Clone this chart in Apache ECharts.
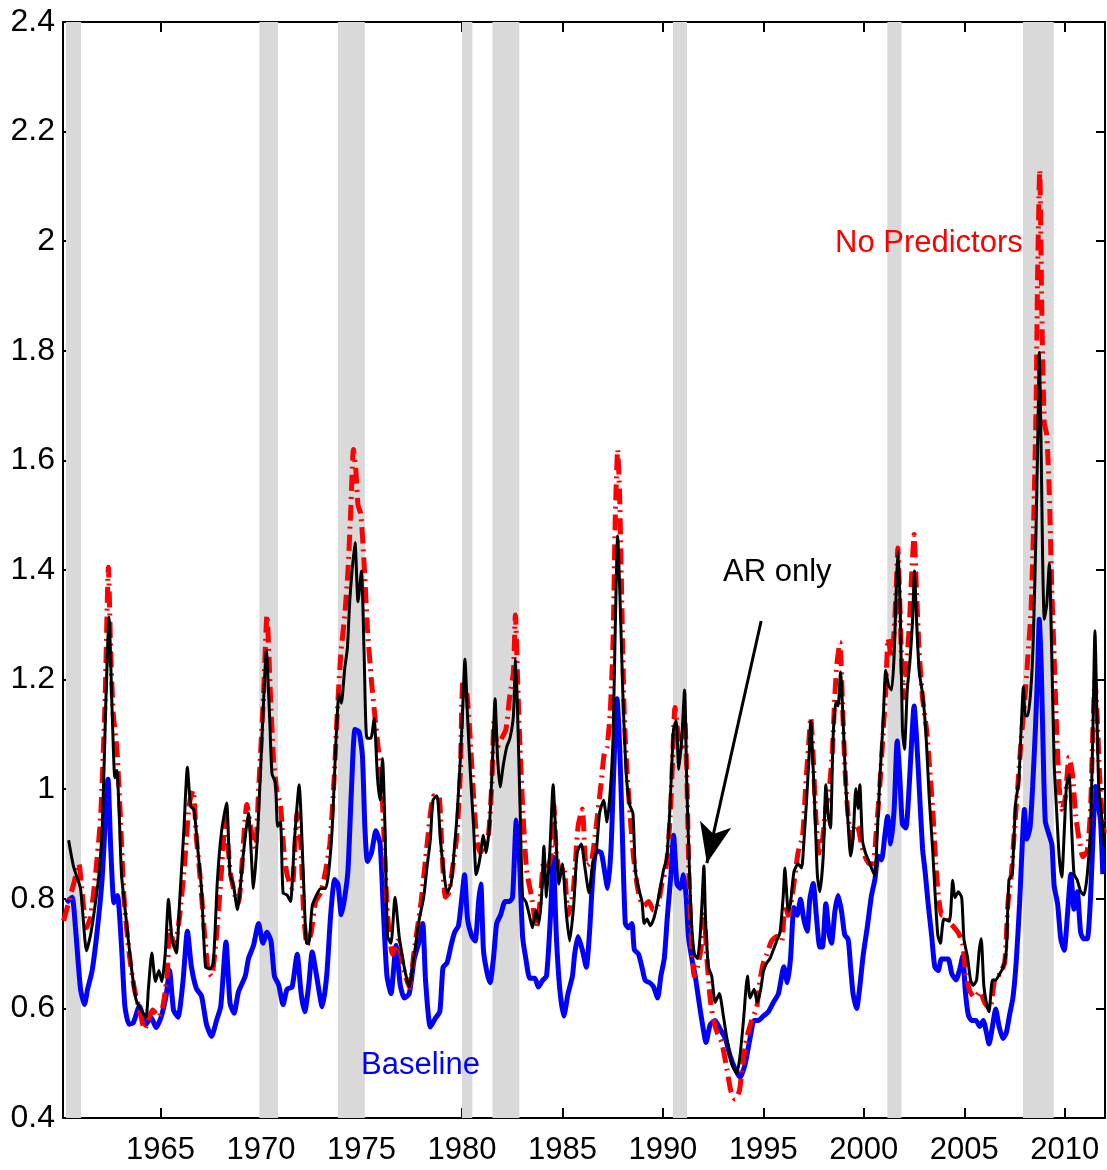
<!DOCTYPE html>
<html>
<head>
<meta charset="utf-8">
<title>Forecast volatility</title>
<script src="https://cdn.jsdelivr.net/npm/echarts@6.0.0/dist/echarts.min.js"></script>
<style>
  html, body { margin: 0; padding: 0; background: #fff; }
  #chart { width: 1107px; height: 1170px; }
</style>
</head>
<body>
<div id="chart"></div>
<script>
// NBER recessions (shaded)
const recessionStart = [1960.30, 1969.92, 1973.83, 1980.00, 1981.52, 1990.50, 2001.17, 2007.92];
const recessionEnd   = [1961.05, 1970.85, 1975.17, 1980.52, 1982.86, 1991.20, 2001.87, 2009.45];

const yearTicks = [1965, 1970, 1975, 1980, 1985, 1990, 1995, 2000, 2005, 2010];

// AR only (black)
const arYears = [1960.43,1960.68,1961.02,1961.32,1961.52,1961.69,1961.94,1962.11,1962.27,1962.44,1962.61,1962.73,1962.83,1962.94,1963.06,1963.28,1963.53,1963.78,1964.03,1964.28,1964.40,1964.57,1964.75,1964.92,1965.07,1965.24,1965.40,1965.57,1965.79,1965.95,1966.17,1966.34,1966.50,1966.67,1966.84,1967.04,1967.24,1967.46,1967.63,1967.83,1968.04,1968.29,1968.46,1968.63,1968.83,
  1969.13,1969.38,1969.63,1969.83,1970.05,1970.27,1970.43,1970.55,1970.72,1970.83,1970.97,1971.10,1971.30,1971.47,1971.67,1971.90,1972.10,1972.27,1972.38,1972.55,1972.77,1972.97,1973.22,1973.38,1973.55,1973.72,1973.88,1974.00,1974.17,1974.30,1974.43,1974.68,1974.83,1975.00,1975.13,1975.27,1975.47,1975.63,1975.80,1975.93,1976.05,1976.17,1976.30,1976.47,1976.67,1976.88,1977.13,1977.38,1977.60,1977.88,
  1978.10,1978.27,1978.43,1978.56,1978.76,1978.93,1979.09,1979.26,1979.46,1979.59,1979.75,1979.92,1980.05,1980.15,1980.28,1980.41,1980.58,1980.71,1980.87,1981.07,1981.20,1981.37,1981.53,1981.65,1981.77,1981.90,1982.06,1982.23,1982.39,1982.56,1982.67,1982.77,1982.89,1983.02,1983.18,1983.35,1983.51,1983.68,1983.83,1983.96,1984.08,1984.21,1984.37,1984.54,1984.67,1984.83,1985.00,1985.20,1985.36,1985.56,1985.73,1985.94,1986.11,1986.32,1986.52,1986.68,1986.85,
  1987.05,1987.22,1987.38,1987.52,1987.63,1987.75,1987.88,1988.01,1988.18,1988.34,1988.51,1988.63,1988.79,1988.96,1989.07,1989.21,1989.37,1989.54,1989.70,1989.87,1990.03,1990.20,1990.36,1990.53,1990.66,1990.79,1990.94,1991.08,1991.19,1991.32,1991.44,1991.57,1991.72,1991.85,1991.95,1992.04,1992.13,1992.27,1992.43,1992.60,1992.81,1993.01,1993.18,1993.43,1993.68,1993.84,1994.01,1994.21,1994.34,1994.54,1994.70,1994.87,1995.00,1995.17,1995.33,1995.50,1995.66,1995.83,
  1995.99,1996.07,1996.24,1996.35,1996.52,1996.73,1996.90,1997.01,1997.15,1997.26,1997.36,1997.48,1997.59,1997.69,1997.81,1997.98,1998.11,1998.23,1998.34,1998.47,1998.61,1998.72,1998.84,1998.97,1999.10,1999.22,1999.34,1999.47,1999.60,1999.72,1999.80,1999.93,2000.07,2000.22,2000.38,2000.55,2000.66,2000.80,2000.96,2001.09,2001.23,2001.38,2001.51,2001.63,2001.71,2001.82,2001.92,2002.02,2002.16,2002.29,2002.42,2002.52,2002.62,2002.75,2002.92,2003.08,2003.25,2003.42,2003.55,2003.68,2003.81,2003.98,
  2004.26,2004.42,2004.54,2004.70,2004.87,2004.98,2005.15,2005.31,2005.44,2005.61,2005.74,2005.84,2005.97,2006.10,2006.23,2006.40,2006.56,2006.76,2006.92,2007.09,2007.22,2007.38,2007.55,2007.71,2007.83,2007.94,2008.04,2008.16,2008.32,2008.44,2008.57,2008.67,2008.73,2008.82,2008.90,2008.98,2009.10,2009.23,2009.34,2009.47,2009.59,2009.72,2009.85,2009.97,2010.08,2010.21,2010.35,2010.46,2010.62,2010.79,2010.95,2011.12,2011.28,2011.40,2011.50,2011.60,2011.69,2011.86,2011.97];
const arValues = [0.907,0.858,0.819,0.705,0.734,0.773,0.845,0.936,1.145,1.314,1.125,1.021,1.034,0.962,0.845,0.767,0.682,0.617,0.597,0.584,0.636,0.701,0.649,0.669,0.649,0.701,0.799,0.728,0.701,0.793,0.930,1.040,0.969,0.962,0.897,0.819,0.676,0.672,0.682,0.832,0.923,0.975,0.845,0.825,0.780,
  0.884,0.956,0.819,0.916,1.093,1.253,1.133,1.028,1.012,0.932,0.940,0.811,0.807,0.795,0.908,1.008,0.852,0.719,0.719,0.787,0.807,0.819,0.819,0.852,0.932,1.077,1.173,1.157,1.221,1.257,1.350,1.450,1.342,1.398,1.253,1.093,1.093,1.129,1.020,0.980,1.056,0.932,0.731,0.719,0.803,0.731,0.675,0.639,0.691,0.763,
  0.803,0.860,0.908,0.980,0.988,0.908,0.852,0.811,0.827,0.876,0.948,1.052,1.157,1.237,1.133,1.036,0.932,0.844,0.868,0.916,0.884,0.932,1.060,1.165,1.060,1.004,1.044,1.077,1.093,1.133,1.237,1.141,0.972,0.803,0.795,0.771,0.747,0.779,0.755,0.803,0.896,0.803,0.884,1.008,0.916,0.827,0.864,0.771,0.723,0.787,0.884,0.900,0.860,0.811,0.868,0.884,0.956,
  0.980,0.940,0.996,1.093,1.293,1.462,1.334,1.173,1.028,0.972,0.956,0.852,0.819,0.795,0.755,0.763,0.751,0.763,0.787,0.819,0.852,0.876,0.972,1.109,1.125,1.036,1.093,1.181,1.012,0.852,0.747,0.699,0.691,0.731,0.795,0.860,0.755,0.675,0.659,0.611,0.627,0.586,0.546,0.498,0.482,0.514,0.578,0.659,0.619,0.635,0.611,0.635,0.667,0.683,0.691,0.707,0.723,0.739,
  0.806,0.856,0.777,0.791,0.849,0.864,0.856,0.900,0.979,1.051,1.124,1.037,0.936,0.842,0.813,0.878,1.008,0.950,0.929,1.095,1.160,1.152,1.214,1.124,1.008,0.936,0.878,0.914,1.001,0.965,1.008,0.907,0.885,0.871,0.856,0.842,0.914,1.022,1.124,1.217,1.189,1.181,1.246,1.384,1.434,1.311,1.109,1.073,1.181,1.232,1.304,1.398,1.311,1.217,1.174,1.109,0.986,0.892,0.806,0.734,0.719,0.763,
  0.759,0.834,0.802,0.813,0.802,0.727,0.695,0.652,0.642,0.652,0.706,0.727,0.642,0.610,0.594,0.652,0.652,0.663,0.674,0.706,0.834,0.845,0.973,1.016,1.112,1.187,1.134,1.134,1.187,1.283,1.476,1.668,1.797,1.626,1.412,1.310,1.337,1.412,1.262,1.048,0.963,0.877,0.840,0.920,1.005,1.027,0.920,0.845,0.834,0.813,0.807,0.845,0.930,1.112,1.289,1.134,1.005,0.941,0.898];

// No Predictors (red)
const npYears = [1960.18,1960.43,1960.70,1960.94,1961.10,1961.32,1961.52,1961.77,1962.02,1962.24,1962.41,1962.52,1962.65,1962.83,1962.99,1963.19,1963.44,1963.70,1964.00,1964.20,1964.62,1964.90,1965.12,1965.34,1965.45,1965.70,1965.95,1966.20,1966.42,1966.62,1966.79,1966.96,1967.17,1967.37,1967.54,1967.79,1968.00,1968.24,1968.46,1968.71,1968.88,
  1969.30,1969.55,1969.72,1969.88,1970.13,1970.30,1970.47,1970.63,1970.80,1970.97,1971.13,1971.30,1971.55,1971.80,1971.97,1972.13,1972.30,1972.50,1972.72,1972.97,1973.22,1973.43,1973.63,1973.80,1973.97,1974.17,1974.33,1974.47,1974.60,1974.72,1974.83,1974.97,1975.13,1975.30,1975.50,1975.67,1975.83,1976.00,1976.13,1976.30,1976.55,1976.80,1977.13,1977.38,1977.63,1977.97,
  1978.27,1978.60,1978.85,1979.01,1979.18,1979.35,1979.55,1979.75,1979.92,1980.05,1980.25,1980.41,1980.58,1980.74,1980.91,1981.16,1981.32,1981.49,1981.60,1981.77,1981.98,1982.19,1982.39,1982.56,1982.66,1982.76,1982.89,1983.05,1983.22,1983.47,1983.71,1983.91,1984.08,1984.29,1984.45,1984.57,1984.70,1984.87,1985.07,1985.28,1985.53,1985.78,1985.99,1986.19,1986.44,1986.68,1986.93,
  1987.08,1987.22,1987.38,1987.52,1987.63,1987.75,1987.85,1987.96,1988.08,1988.21,1988.38,1988.54,1988.71,1988.87,1989.07,1989.29,1989.54,1989.74,1989.95,1990.17,1990.36,1990.50,1990.60,1990.78,1990.94,1991.08,1991.19,1991.29,1991.39,1991.56,1991.72,1991.89,1992.05,1992.19,1992.35,1992.52,1992.72,1992.93,1993.18,1993.38,1993.59,1993.81,1993.97,1994.17,1994.42,1994.67,1994.83,1995.00,1995.17,1995.41,1995.66,1995.91,
  1996.08,1996.24,1996.49,1996.73,1996.95,1997.11,1997.28,1997.36,1997.48,1997.61,1997.78,1997.94,1998.11,1998.28,1998.44,1998.56,1998.67,1998.81,1998.94,1999.07,1999.22,1999.39,1999.55,1999.72,1999.88,2000.05,2000.27,2000.46,2000.63,2000.80,2000.96,2001.09,2001.21,2001.38,2001.51,2001.63,2001.69,2001.79,2001.89,2001.99,2002.12,2002.26,2002.37,2002.50,2002.62,2002.75,2002.92,2003.12,2003.28,2003.45,2003.58,2003.71,2003.88,
  2004.05,2004.21,2004.46,2004.70,2004.92,2005.08,2005.28,2005.53,2005.77,2006.02,2006.27,2006.51,2006.76,2007.01,2007.17,2007.34,2007.50,2007.66,2007.83,2007.99,2008.16,2008.32,2008.45,2008.57,2008.65,2008.75,2008.86,2008.98,2009.10,2009.23,2009.34,2009.47,2009.59,2009.72,2009.85,2010.02,2010.21,2010.38,2010.54,2010.71,2010.90,2011.12,2011.28,2011.40,2011.50,2011.61,2011.73,2011.86,2011.97];
const npValues = [0.760,0.793,0.830,0.864,0.812,0.747,0.767,0.845,0.949,1.158,1.405,1.255,1.138,1.073,0.962,0.800,0.701,0.636,0.591,0.562,0.597,0.584,0.604,0.663,0.747,0.714,0.767,0.864,0.969,0.998,0.910,0.845,0.747,0.669,0.659,0.734,0.832,0.949,0.852,0.806,0.793,
  0.972,0.916,0.892,0.996,1.173,1.318,1.173,1.052,0.996,0.972,0.892,0.844,0.819,0.956,0.908,0.771,0.715,0.739,0.795,0.811,0.852,0.900,1.012,1.141,1.245,1.318,1.398,1.510,1.620,1.583,1.518,1.502,1.414,1.293,1.197,1.133,1.077,1.012,0.908,0.771,0.699,0.723,0.667,0.639,0.707,0.795,
  0.900,0.988,0.988,0.884,0.803,0.811,0.860,0.916,1.028,1.197,1.173,1.093,0.988,0.908,0.884,0.900,0.916,1.012,1.125,1.077,1.093,1.109,1.173,1.213,1.318,1.213,1.077,0.948,0.852,0.803,0.747,0.803,0.868,0.860,0.884,0.972,0.884,0.852,0.860,0.771,0.811,0.932,0.964,0.860,0.868,0.932,1.012,
  1.065,1.077,1.141,1.269,1.494,1.620,1.534,1.334,1.133,1.036,0.948,0.876,0.827,0.799,0.787,0.795,0.779,0.787,0.827,0.860,0.948,1.069,1.149,1.093,1.077,1.133,1.028,0.852,0.747,0.659,0.675,0.707,0.771,0.691,0.619,0.578,0.554,0.538,0.490,0.450,0.434,0.450,0.498,0.546,0.578,0.602,0.651,0.683,0.699,0.723,0.731,0.723,
  0.789,0.770,0.820,0.885,0.914,1.008,1.095,1.131,1.059,0.950,0.878,0.907,0.965,1.001,1.073,1.174,1.232,1.268,1.152,1.030,0.950,0.907,0.936,0.929,0.900,0.878,0.864,0.864,0.929,1.008,1.102,1.181,1.275,1.239,1.290,1.384,1.440,1.340,1.225,1.167,1.225,1.297,1.384,1.465,1.362,1.253,1.167,1.109,1.037,0.950,0.864,0.806,0.770,
  0.770,0.759,0.749,0.738,0.717,0.663,0.631,0.620,0.631,0.610,0.599,0.652,0.663,0.684,0.791,0.845,0.930,1.005,1.091,1.155,1.241,1.326,1.487,1.701,1.947,2.130,1.861,1.668,1.647,1.540,1.380,1.241,1.112,1.005,0.963,0.984,1.059,1.027,0.952,0.909,0.877,0.888,0.963,1.112,1.198,1.134,1.027,0.952,0.920];

// Baseline (blue)
const blYears = [1960.32,1960.60,1960.77,1961.02,1961.22,1961.38,1961.60,1961.85,1962.10,1962.39,1962.52,1962.69,1962.86,1963.06,1963.23,1963.44,1963.65,1963.95,1964.28,1964.53,1964.78,1965.03,1965.28,1965.45,1965.65,1965.87,1966.12,1966.34,1966.54,1966.79,1967.04,1967.29,1967.54,1967.79,1968.00,1968.26,1968.46,1968.66,1968.88,
  1969.22,1969.38,1969.63,1969.88,1970.10,1970.30,1970.50,1970.67,1970.88,1971.10,1971.30,1971.55,1971.80,1972.00,1972.18,1972.38,1972.55,1972.77,1973.05,1973.27,1973.47,1973.67,1973.83,1974.00,1974.17,1974.33,1974.50,1974.68,1974.88,1975.05,1975.17,1975.30,1975.50,1975.72,1975.93,1976.10,1976.27,1976.47,1976.72,1976.93,1977.13,1977.38,1977.63,1977.88,
  1978.05,1978.19,1978.43,1978.68,1978.90,1979.06,1979.26,1979.46,1979.64,1979.83,1980.00,1980.13,1980.28,1980.50,1980.66,1980.83,1980.94,1981.07,1981.24,1981.40,1981.57,1981.73,1981.93,1982.15,1982.36,1982.52,1982.71,1982.85,1983.02,1983.18,1983.38,1983.63,1983.80,1984.01,1984.21,1984.41,1984.54,1984.70,1984.87,1985.07,1985.28,1985.50,1985.61,1985.78,1985.99,1986.19,1986.35,1986.52,1986.68,1986.93,
  1987.10,1987.25,1987.42,1987.55,1987.72,1987.85,1987.96,1988.13,1988.29,1988.46,1988.58,1988.79,1988.96,1989.12,1989.34,1989.54,1989.74,1989.90,1990.07,1990.23,1990.40,1990.53,1990.70,1990.86,1991.03,1991.16,1991.27,1991.44,1991.61,1991.77,1991.94,1992.15,1992.35,1992.60,1992.85,1993.10,1993.34,1993.59,1993.84,1994.09,1994.34,1994.54,1994.75,1995.00,1995.25,1995.50,1995.75,
  1996.02,1996.19,1996.35,1996.52,1996.68,1996.85,1997.01,1997.18,1997.31,1997.48,1997.65,1997.81,1997.94,1998.11,1998.28,1998.39,1998.56,1998.72,1998.89,1999.05,1999.22,1999.34,1999.47,1999.64,1999.80,1999.97,2000.17,2000.38,2000.55,2000.71,2000.88,2001.04,2001.18,2001.34,2001.51,2001.66,2001.79,2001.92,2002.09,2002.26,2002.39,2002.50,2002.62,2002.75,2002.92,2003.05,2003.20,2003.37,2003.53,2003.70,2003.86,
  2004.03,2004.20,2004.38,2004.59,2004.79,2004.92,2005.05,2005.20,2005.36,2005.58,2005.77,2005.94,2006.10,2006.23,2006.40,2006.56,2006.73,2006.92,2007.09,2007.25,2007.42,2007.58,2007.75,2007.88,2007.99,2008.11,2008.27,2008.40,2008.54,2008.65,2008.73,2008.83,2008.93,2009.03,2009.19,2009.36,2009.47,2009.64,2009.80,2009.97,2010.13,2010.30,2010.46,2010.62,2010.79,2010.95,2011.12,2011.28,2011.41,2011.53,2011.66,2011.78,2011.89];
const blValues = [0.793,0.803,0.747,0.636,0.607,0.636,0.669,0.741,0.838,1.018,0.897,0.793,0.806,0.714,0.604,0.571,0.574,0.604,0.571,0.584,0.565,0.584,0.623,0.669,0.597,0.584,0.649,0.741,0.676,0.636,0.623,0.571,0.549,0.578,0.604,0.721,0.610,0.591,0.630,
  0.659,0.691,0.715,0.755,0.719,0.739,0.723,0.659,0.643,0.607,0.635,0.639,0.699,0.627,0.594,0.643,0.703,0.659,0.603,0.659,0.771,0.835,0.827,0.771,0.803,0.852,0.996,1.109,1.105,1.060,0.932,0.868,0.884,0.924,0.900,0.771,0.659,0.627,0.715,0.643,0.619,0.627,0.691,0.723,
  0.755,0.651,0.566,0.582,0.594,0.675,0.683,0.715,0.739,0.751,0.803,0.844,0.763,0.731,0.723,0.795,0.827,0.707,0.667,0.647,0.691,0.755,0.771,0.795,0.795,0.803,0.944,0.884,0.731,0.691,0.655,0.655,0.639,0.651,0.659,0.771,0.876,0.731,0.635,0.586,0.627,0.659,0.699,0.731,0.707,0.675,0.739,0.844,0.888,0.884,
  0.850,0.819,0.892,1.028,1.165,1.077,0.948,0.755,0.747,0.755,0.707,0.699,0.675,0.651,0.647,0.639,0.619,0.659,0.691,0.771,0.844,0.916,0.827,0.819,0.844,0.803,0.731,0.691,0.659,0.619,0.578,0.538,0.570,0.578,0.562,0.546,0.514,0.490,0.474,0.498,0.546,0.578,0.578,0.586,0.594,0.611,0.627,
  0.676,0.647,0.690,0.784,0.770,0.799,0.763,0.741,0.799,0.828,0.763,0.712,0.712,0.791,0.734,0.719,0.777,0.806,0.777,0.734,0.726,0.676,0.625,0.600,0.640,0.698,0.748,0.806,0.835,0.878,0.871,0.914,0.950,0.900,0.965,1.088,1.022,0.936,0.929,1.008,1.095,1.152,1.095,1.008,0.892,0.849,0.791,0.734,0.676,0.669,0.690,
  0.690,0.690,0.663,0.652,0.674,0.695,0.631,0.588,0.578,0.578,0.567,0.578,0.556,0.535,0.567,0.599,0.567,0.545,0.556,0.588,0.620,0.684,0.791,0.898,0.963,0.909,0.930,1.005,1.112,1.219,1.310,1.219,1.059,0.941,0.920,0.898,0.824,0.791,0.727,0.706,0.770,0.845,0.781,0.813,0.738,0.727,0.727,0.802,0.920,1.005,0.973,0.941,0.845];

const pairs = (xs, ys) => xs.map((x, i) => [x, ys[i]]);

const FONT = '"Liberation Sans", Arial, Helvetica, sans-serif';
const chart = echarts.init(document.getElementById('chart'), null, {renderer: 'canvas'});

const tickStyle = {show: true, inside: true, length: 10, lineStyle: {color: '#000', width: 2}};
const lineAxis = {show: true, onZero: false, lineStyle: {color: '#000', width: 2}};

chart.setOption({
  animation: false,
  backgroundColor: '#fff',
  grid: {left: 63, right: 2, top: 22, bottom: 52, containLabel: false},
  xAxis: [{
    type: 'value', min: 1960.15, max: 2012.0, position: 'bottom',
    axisLine: lineAxis,
    axisTick: Object.assign({customValues: yearTicks}, tickStyle),
    axisLabel: {customValues: yearTicks, color: '#000', fontSize: 31, fontFamily: FONT, margin: 17,
                formatter: v => String(Math.round(v))},
    splitLine: {show: false}
  }, {
    type: 'value', min: 1960.15, max: 2012.0, position: 'top',
    axisLine: lineAxis,
    axisTick: Object.assign({customValues: yearTicks}, tickStyle),
    axisLabel: {show: false},
    splitLine: {show: false}
  }],
  yAxis: [{
    type: 'value', min: 0.4, max: 2.4, interval: 0.2, position: 'left',
    axisLine: lineAxis,
    axisTick: Object.assign({}, tickStyle, {length: 9}),
    axisLabel: {color: '#000', fontSize: 32, fontFamily: FONT, margin: 8},
    splitLine: {show: false}
  }, {
    type: 'value', min: 0.4, max: 2.4, interval: 0.2, position: 'right',
    axisLine: lineAxis,
    axisTick: Object.assign({}, tickStyle, {length: 9}),
    axisLabel: {show: false},
    splitLine: {show: false}
  }],
  series: [{
    name: 'recessions', type: 'line', data: [], z: 1, silent: true,
    markArea: {
      silent: true,
      itemStyle: {color: '#d9d9d9'},
      data: recessionStart.map((s, i) => [{xAxis: s}, {xAxis: recessionEnd[i]}])
    }
  }, {
    name: 'Baseline', type: 'line', z: 3, showSymbol: false, smooth: 0.2,
    data: pairs(blYears, blValues),
    lineStyle: {color: '#0000ff', width: 5}
  }, {
    name: 'No Predictors', type: 'line', z: 4, showSymbol: false, smooth: 0.2,
    data: pairs(npYears, npValues),
    lineStyle: {color: '#ff0000', width: 5, type: [16, 6, 2, 6], cap: 'butt'}
  }, {
    name: 'AR only', type: 'line', z: 5, showSymbol: false, smooth: 0.2,
    data: pairs(arYears, arValues),
    lineStyle: {color: '#000000', width: 3},
    markLine: {
      silent: true,
      symbol: ['none', 'arrow'],
      symbolSize: [24, 40],
      label: {show: false},
      lineStyle: {color: '#000', width: 3, type: 'solid'},
      data: [[{coord: [1994.89, 1.307]}, {coord: [1992.19, 0.865]}]]
    }
  }],
  graphic: [
    {type: 'text', left: 835, top: 228, z: 10,
     style: {text: 'No Predictors', fill: '#ff0000', font: '31px ' + FONT}},
    {type: 'text', left: 723, top: 557, z: 10,
     style: {text: 'AR only', fill: '#000000', font: '31px ' + FONT}},
    {type: 'text', left: 361, top: 1050, z: 10,
     style: {text: 'Baseline', fill: '#0000ff', font: '31px ' + FONT}}
  ]
});
</script>
</body>
</html>
